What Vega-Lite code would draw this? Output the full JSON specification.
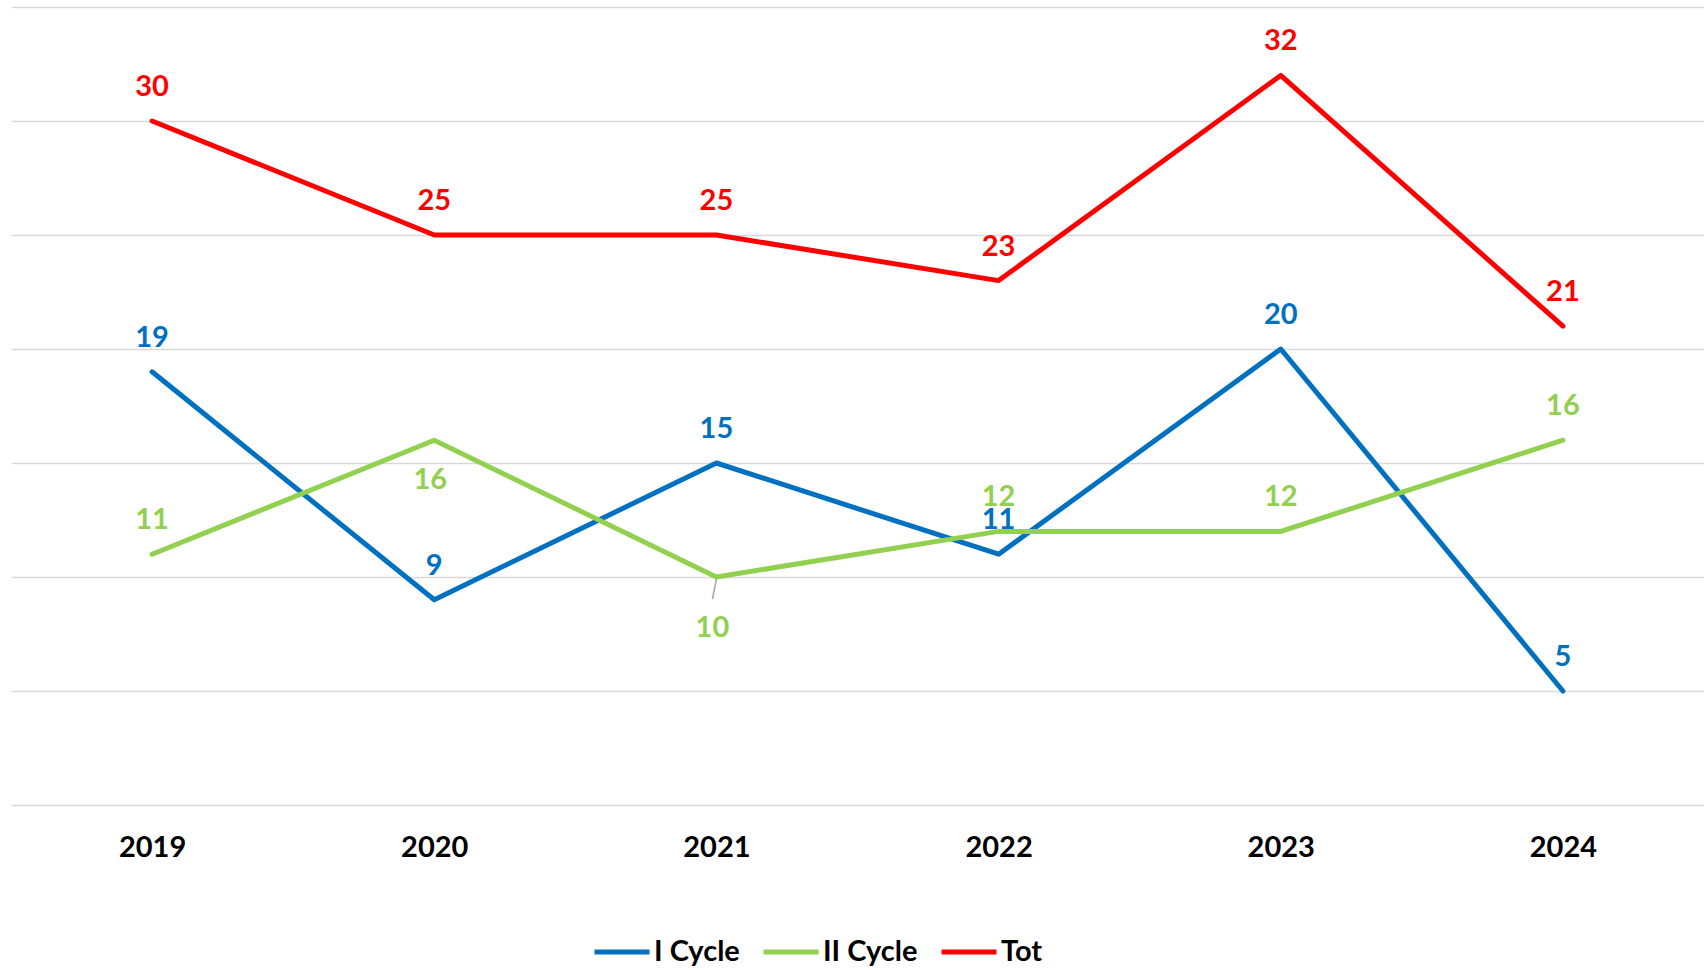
{
  "$schema": "https://vega.github.io/schema/vega-lite/v6.json",
  "width": 1693,
  "height": 798,
  "autosize": {"type": "none"},
  "padding": {"left": 11, "top": 7, "right": 0, "bottom": 165},
  "background": "white",
  "config": {
    "view": {"stroke": null},
    "font": "Lato",
    "axis": {"labelFont": "Lato"},
    "legend": {"labelFont": "Lato"}
  },
  "data": {
    "values": [
      {"year": "2019", "series": "I Cycle", "value": 19},
      {"year": "2020", "series": "I Cycle", "value": 9},
      {"year": "2021", "series": "I Cycle", "value": 15},
      {"year": "2022", "series": "I Cycle", "value": 11},
      {"year": "2023", "series": "I Cycle", "value": 20},
      {"year": "2024", "series": "I Cycle", "value": 5},
      {"year": "2019", "series": "II Cycle", "value": 11},
      {"year": "2020", "series": "II Cycle", "value": 16},
      {"year": "2021", "series": "II Cycle", "value": 10},
      {"year": "2022", "series": "II Cycle", "value": 12},
      {"year": "2023", "series": "II Cycle", "value": 12},
      {"year": "2024", "series": "II Cycle", "value": 16},
      {"year": "2019", "series": "Tot", "value": 30},
      {"year": "2020", "series": "Tot", "value": 25},
      {"year": "2021", "series": "Tot", "value": 25},
      {"year": "2022", "series": "Tot", "value": 23},
      {"year": "2023", "series": "Tot", "value": 32},
      {"year": "2024", "series": "Tot", "value": 21}
    ]
  },
  "encoding": {
    "x": {
      "field": "year",
      "type": "ordinal",
      "scale": {"type": "point", "padding": 0.5},
      "axis": {
        "title": null,
        "labelAngle": 0,
        "labelFontSize": 29,
        "labelFontWeight": "bold",
        "labelColor": "black",
        "labelPadding": 28,
        "ticks": false,
        "domain": false,
        "grid": false
      }
    },
    "y": {
      "field": "value",
      "type": "quantitative",
      "scale": {"domain": [0, 35], "nice": false, "zero": true},
      "axis": {
        "title": null,
        "labels": false,
        "ticks": false,
        "domain": false,
        "grid": true,
        "gridColor": "#d9d9d9",
        "gridWidth": 1.5,
        "values": [0, 5, 10, 15, 20, 25, 30, 35]
      }
    },
    "color": {
      "field": "series",
      "type": "nominal",
      "scale": {
        "domain": ["I Cycle", "II Cycle", "Tot"],
        "range": ["#0070C0", "#92D050", "#FF0000"]
      },
      "legend": {
        "title": null,
        "orient": "none",
        "direction": "horizontal",
        "legendX": 581,
        "legendY": 915,
        "symbolType": "stroke",
        "symbolSize": 3025,
        "symbolStrokeWidth": 5,
        "labelFontSize": 29,
        "labelFontWeight": "bold",
        "labelColor": "black",
        "labelOffset": 2,
        "columnPadding": 13
      }
    }
  },
  "layer": [
    {
      "mark": {"type": "line", "strokeWidth": 5, "strokeCap": "round", "strokeJoin": "round"}
    },
    {
      "transform": [{"filter": "!(datum.series == 'II Cycle' && (datum.year == '2020' || datum.year == '2021'))"}],
      "mark": {"type": "text", "fontSize": 29, "fontWeight": "bold", "baseline": "middle", "dy": -34},
      "encoding": {"text": {"field": "value", "type": "quantitative"}}
    },
    {
      "transform": [{"filter": "datum.series == 'II Cycle' && datum.year == '2020'"}],
      "mark": {"type": "text", "fontSize": 29, "fontWeight": "bold", "baseline": "middle", "dy": 40, "dx": -4},
      "encoding": {"text": {"field": "value", "type": "quantitative"}}
    },
    {
      "transform": [{"filter": "datum.series == 'II Cycle' && datum.year == '2021'"}],
      "mark": {"type": "text", "fontSize": 29, "fontWeight": "bold", "baseline": "middle", "dy": 51, "dx": -4},
      "encoding": {"text": {"field": "value", "type": "quantitative"}}
    },
    {
      "transform": [{"filter": "datum.series == 'II Cycle' && datum.year == '2021'"}],
      "mark": {"type": "rule", "color": "#a6a6a6", "strokeWidth": 1.5, "yOffset": 2, "y2Offset": 22, "x2Offset": -4},
      "encoding": {
        "x2": {"field": "year"},
        "y2": {"field": "value"},
        "color": {"value": "#a6a6a6"}
      }
    }
  ]
}
